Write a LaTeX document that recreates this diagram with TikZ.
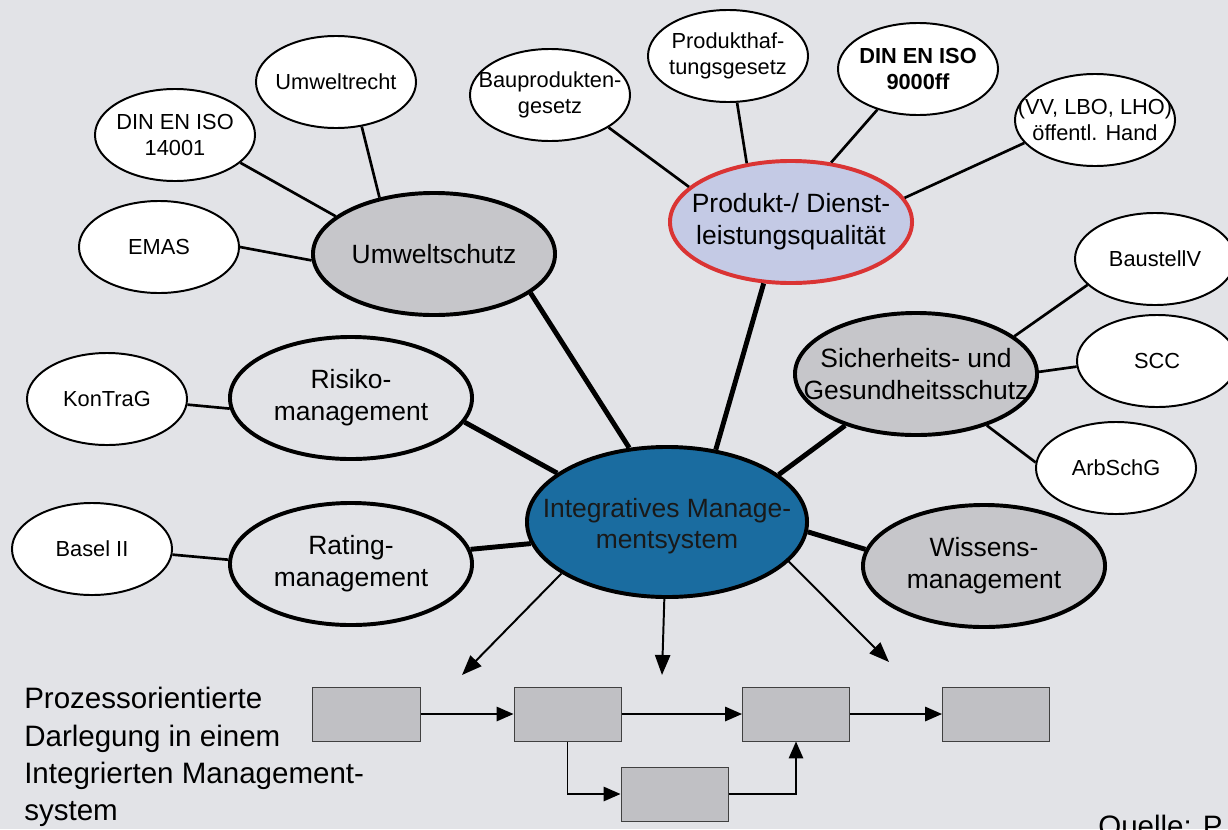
\documentclass[tikz,border=0pt]{standalone}
\usepackage{fontspec}
\setmainfont{Liberation Sans}
\usetikzlibrary{arrows.meta,shapes.geometric}
\definecolor{bg}{RGB}{226,227,231}
\definecolor{greyfill}{RGB}{198,198,202}
\definecolor{imsblue}{RGB}{26,108,160}
\definecolor{qualfill}{RGB}{196,202,229}
\definecolor{qualred}{RGB}{218,52,52}
\definecolor{boxfill}{RGB}{192,192,196}

\begin{document}
\begin{tikzpicture}[x=0.025cm, y=-0.025cm,
  sat/.style={ellipse, draw, line width=1.4pt, fill=white, minimum width=4cm, minimum height=2.3cm, inner sep=0pt},
  area/.style={ellipse, draw, line width=2.8pt, fill=greyfill, minimum width=6.05cm, minimum height=3.05cm, inner sep=0pt},
  small/.style={align=center, inner sep=0pt, font=\fontsize{15.5}{18.5}\selectfont},
  big/.style={align=center, inner sep=0pt, font=\fontsize{18.8}{22.6}\selectfont},
  twig/.style={line width=1.9pt},
  branch/.style={line width=3.5pt},
  arr/.style={line width=1.4pt, -{Triangle[length=0.5cm, width=0.38cm]}},
  proc/.style={rectangle, draw=black!75, line width=0.7pt, fill=boxfill, minimum width=2.675cm, minimum height=1.35cm, inner sep=0pt},
  flow/.style={line width=1pt, -{Triangle[length=0.42cm, width=0.36cm]}}
]
\fill[bg] (0,0) rectangle (1228,829);
\useasboundingbox (0,0) rectangle (1228,829);

% Themenfelder
\node[area, label={[big]center:Umweltschutz}] (umw) at (434,254) {};
\node[area, fill=qualfill, draw=qualred, label={[big]center:{Produkt-/ Dienst-\\leistungsqualität}}] (qual) at (791,222) {};
\node[area, label={[big]center:{Sicherheits- und\\Gesundheitsschutz}}] (sgs) at (916,374) {};
\node[area, fill=bg, label={[big]center:{Risiko-\\management}}] (risk) at (351,398) {};
\node[area, fill=bg, label={[big]center:{Rating-\\management}}] (rate) at (351,564) {};
\node[area, label={[big]center:{Wissens-\\management}}] (wiss) at (984,566) {};
\node[area, fill=imsblue, minimum width=7cm, minimum height=3.75cm, label={[big, text=black!90, yshift=-3pt]center:{Integratives Manage-\\mentsystem}}] (ims) at (667,522) {};

% Grundlagen
\node[sat, label={[small]center:Umweltrecht}] (recht) at (336,82) {};
\node[sat, label={[small]center:{DIN EN ISO\\14001}}] (iso14) at (175,135) {};
\node[sat, label={[small]center:EMAS}] (emas) at (159,247) {};
\node[sat, label={[small]center:{Bauprodukten-\\gesetz}}] (baupg) at (550,95) {};
\node[sat, label={[small]center:{Produkthaf-\\tungsgesetz}}] (phg) at (728,56) {};
\node[sat, label={[small, font=\fontsize{15.5}{18.5}\selectfont\bfseries]center:{DIN EN ISO\\9000ff}}] (iso9) at (918,69) {};
\node[sat, label={[small]center:{(VV, LBO, LHO)\\öffentl. Hand}}] (hand) at (1095,120) {};
\node[sat, label={[small]center:BaustellV}] (bau) at (1155,259) {};
\node[sat, label={[small]center:SCC}] (scc) at (1157,361) {};
\node[sat, label={[small]center:ArbSchG}] (arb) at (1116,468) {};
\node[sat, label={[small]center:KonTraG}] (kon) at (107,399) {};
\node[sat, label={[small]center:Basel II}] (basel) at (92,549) {};

\foreach \a/\b in {umw.134/recht.-60, umw.159/iso14.-23, umw.183/emas.0,
  qual.161/baupg.-29, qual.127/phg.-79, qual.56/iso9.-135, qual.12/hand.-162,
  sgs.21/bau.201, sgs.1/scc.184, sgs.-36/arb.176, risk.185/kon.-4, rate.178/basel.-4}
  \draw[twig] (\a) -- (\b);
\foreach \a/\b in {ims.117/umw.-22, ims.56/qual.-114, ims.156/risk.-12,
  ims.189/rate.7, ims.23/sgs.-144, ims.-4/wiss.172}
  \draw[branch] (\a) -- (\b);

% Prozesskette
\coordinate (a1) at (462,675);
\coordinate (a2) at (662,675);
\coordinate (a3) at (889,662);
\draw[arr] (ims.206) -- (a1);
\draw[arr] (ims.-92) -- (a2);
\draw[arr] (ims.-18) -- (a3);

\node[proc] (p1) at (366.5,714) {};
\node[proc] (p2) at (567.5,714) {};
\node[proc] (p3) at (796,714) {};
\node[proc] (p4) at (996,714) {};
\node[proc] (p5) at (674.5,794) {};
\foreach \a/\b in {p1/p2, p2/p3, p3/p4} \draw[flow] (\a) -- (\b);
\draw[flow] (p2.south) |- (p5.west);
\draw[flow] (p5.east) -| (p3.south);

\node[anchor=west, align=left, inner sep=0pt, font=\fontsize{21}{26.5}\selectfont] (desc) at (24,757) {Prozessorientierte\\Darlegung in einem\\Integrierten Management-\\system};
\node[anchor=base west, inner sep=0pt, font=\fontsize{21}{25}\selectfont] (src) at (1098,836) {Quelle: P};
\end{tikzpicture}
\end{document}
